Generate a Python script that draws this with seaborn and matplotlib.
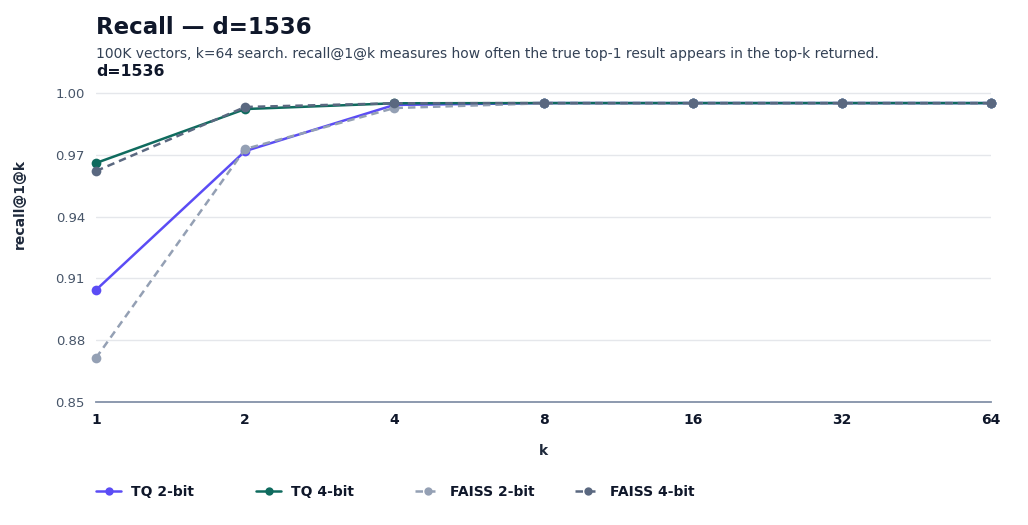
import pandas as pd
import matplotlib.pyplot as plt
import seaborn as sns
from matplotlib.lines import Line2D
from matplotlib.ticker import FixedLocator, FuncFormatter

# data
k_values = [1, 2, 4, 8, 16, 32, 64]
tq_2bit = [0.9044, 0.9718, 0.9942, 0.9951, 0.9951, 0.9951, 0.9951]
tq_4bit = [0.9660, 0.9922, 0.9950, 0.9951, 0.9951, 0.9951, 0.9951]
faiss_2bit = [0.8714, 0.9728, 0.9927, 0.9950, 0.9950, 0.9950, 0.9950]
faiss_4bit = [0.9621, 0.9932, 0.9950, 0.9951, 0.9951, 0.9951, 0.9951]
series_names = ['TQ 2-bit', 'TQ 4-bit', 'FAISS 2-bit', 'FAISS 4-bit']
y_ticks = [0.85, 0.88, 0.91, 0.94, 0.97, 1.00]

df = pd.concat([
    pd.DataFrame({'k': k_values, 'recall': vals, 'method': name})
    for name, vals in zip(series_names, [tq_2bit, tq_4bit, faiss_2bit, faiss_4bit])
])

colors = {'TQ 2-bit': '#5b4cf5', 'TQ 4-bit': '#0f6b5e',
          'FAISS 2-bit': '#94a0b4', 'FAISS 4-bit': '#5a6880'}
dashes = {'TQ 2-bit': '', 'TQ 4-bit': '', 'FAISS 2-bit': (3, 2), 'FAISS 4-bit': (3, 2)}

sns.set_style('white')
plt.rcParams['font.family'] = ['DejaVu Sans']

fig = plt.figure(figsize=(10.28, 5.25), dpi=100)
ax = fig.add_axes([96 / 1028, 123 / 525, 895 / 1028, 315.2 / 525])

sns.lineplot(data=df, x='k', y='recall', hue='method', style='method',
             palette=colors, dashes=dashes, markers={n: 'o' for n in series_names},
             markersize=7, markeredgewidth=0, linewidth=1.8, legend=False, ax=ax)
for ln in ax.lines:
    ln.set_clip_on(False)

ax.set_xscale('log', base=2)
ax.set_xlim(1, 64)
ax.xaxis.set_major_locator(FixedLocator(k_values))
ax.xaxis.set_minor_locator(FixedLocator([]))
ax.xaxis.set_major_formatter(FuncFormatter(lambda v, p: f'{int(round(v))}'))
ax.set_ylim(0.85, 1.003)
ax.set_yticks(y_ticks)
ax.set_yticklabels([f'{v:.2f}' for v in y_ticks])

ax.grid(axis='y', color='#e5e7eb', linewidth=1)
ax.grid(axis='x', visible=False)
for s in ['top', 'right', 'left']:
    ax.spines[s].set_visible(False)
ax.spines['bottom'].set_color('#8491a8')
ax.spines['bottom'].set_linewidth(1.3)
ax.tick_params(axis='x', length=0, pad=8, labelsize=10, labelcolor='#0f172a')
ax.tick_params(axis='y', length=0, pad=8, labelsize=9.5, labelcolor='#475569')
for t in ax.get_xticklabels():
    t.set_fontweight('bold')

ax.set_xlabel('k', fontsize=10, fontweight='bold', color='#1e293b', labelpad=12)
ax.set_ylabel('recall@1@k', fontsize=10, fontweight='bold', color='#1e293b')
ax.yaxis.set_label_coords(-0.0771, 0.628)

fig.text(96 / 1028, 1 - 28 / 525, 'Recall — d=1536', fontsize=16.5, fontweight='bold',
         color='#0f172a', va='center')
fig.text(96 / 1028, 1 - 54 / 525,
         '100K vectors, k=64 search. recall@1@k measures how often the true top-1 result appears in the top-k returned.',
         fontsize=10, color='#334155', va='center')
fig.text(96 / 1028, 1 - 72 / 525, 'd=1536', fontsize=11.3, fontweight='bold',
         color='#0f172a', va='center')

# legend entries sit in fixed-width slots along the bottom
slot_x = [96, 256, 415, 575]
for n, x in zip(series_names, slot_x):
    h = Line2D([0], [0], color=colors[n], linestyle='-' if dashes[n] == '' else (0, (3, 2)),
               marker='o', markersize=6, markeredgewidth=0, linewidth=1.8)
    leg = fig.legend([h], [n], loc='center left', bbox_to_anchor=(x / 1028, 1 - 492 / 525),
                     frameon=False, handlelength=1.8, handletextpad=0.7, borderaxespad=0,
                     borderpad=0, prop={'weight': 'bold', 'size': 10})
    for t in leg.get_texts():
        t.set_color('#0f172a')

fig.savefig('out.png', dpi=100)
